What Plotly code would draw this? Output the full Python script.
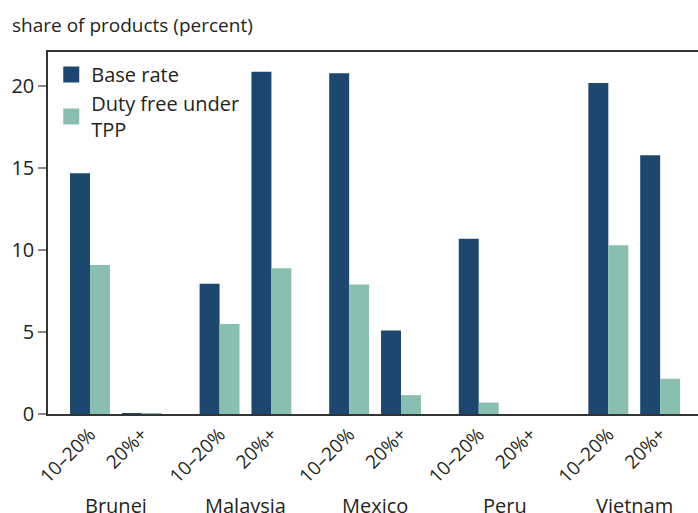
import plotly.graph_objects as go

countries = ["Brunei", "Malaysia", "Mexico", "Peru", "Vietnam"]
brackets = ["10–20%", "20%+"]
base_rate = [14.7, 0.05, 7.95, 20.9, 20.8, 5.1, 10.7, 0.0, 20.2, 15.8]
duty_free = [9.1, 0.05, 5.5, 8.9, 7.9, 1.15, 0.7, 0.0, 10.3, 2.15]
series_names = ["Base rate", "Duty free under<br>TPP"]
series_colors = ["#1d476e", "#89bfb0"]

# slot positions: two slots per country, 1.5-unit gap between countries
xpos = []
for ci in range(len(countries)):
    for bi in range(len(brackets)):
        xpos.append(ci * 2.5 + bi)
ticktext = [b for _ in countries for b in brackets]
centers = [ci * 2.5 + 0.5 for ci in range(len(countries))]

FONT = "Open Sans"
TXT = "#231f20"
PLOT_H = 362

fig = go.Figure()
for vals, name, col in zip([base_rate, duty_free], series_names, series_colors):
    fig.add_trace(go.Bar(x=xpos, y=vals, name=name, marker_color=col,
                         marker_line_width=0, showlegend=False, legendgroup=name))
    # legend entry with a larger square swatch
    fig.add_trace(go.Scatter(x=[None], y=[None], mode="markers", name=name,
                             legendgroup=name,
                             marker=dict(symbol="square", size=20, color=col,
                                         line=dict(width=0))))

annotations = [dict(text="share of products (percent)", xref="paper", yref="paper",
                    x=-38/650, y=1 + 27/PLOT_H, xanchor="left", yanchor="middle",
                    showarrow=False, font=dict(size=19, color=TXT, family=FONT))]
for c, xc in zip(countries, centers):
    annotations.append(dict(text=c, x=xc, xref="x", y=-91/PLOT_H, yref="paper",
                            xanchor="center", yanchor="middle", showarrow=False,
                            font=dict(size=20, color=TXT, family=FONT)))

fig.update_layout(
    width=698, height=513,
    margin=dict(l=48, r=0, t=52, b=99),
    paper_bgcolor="white", plot_bgcolor="white",
    barmode="group", bargap=0.23, bargroupgap=0,
    font=dict(family=FONT, size=19, color=TXT),
    showlegend=True,
    legend=dict(x=0.005, y=0.992, xanchor="left", yanchor="top", itemsizing="trace",
                bgcolor="rgba(0,0,0,0)", font=dict(size=20, color=TXT, family=FONT),
                tracegroupgap=0),
    annotations=annotations,
    xaxis=dict(range=[-0.81, 11.73], tickvals=xpos, ticktext=ticktext, tickangle=-45,
               showline=True, linecolor="#333333", linewidth=1.5, mirror=True,
               ticks="", showgrid=False, zeroline=False, automargin=False,
               tickfont=dict(size=19, color=TXT, family=FONT)),
    yaxis=dict(range=[0, 22.1], tickvals=[0, 5, 10, 15, 20],
               showline=True, linecolor="#333333", linewidth=1.5, mirror=False,
               ticks="outside", ticklen=8, tickcolor="#888888", tickwidth=1.5,
               showgrid=False, zeroline=False, automargin=False,
               tickfont=dict(size=20, color=TXT, family=FONT)),
)

fig.write_html("out.html", config={"displayModeBar": False},
               post_script="document.body.style.margin='0';document.body.style.overflow='hidden';")
